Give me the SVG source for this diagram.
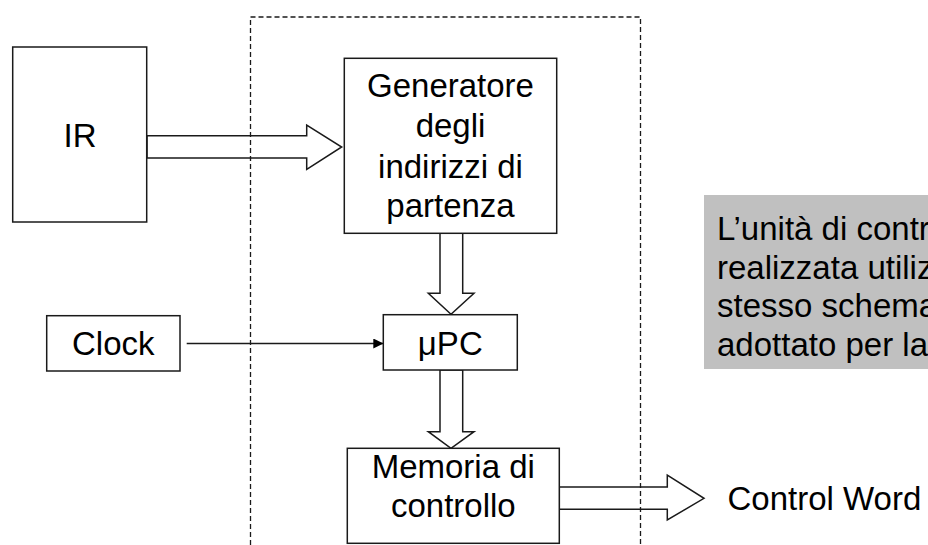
<svg xmlns="http://www.w3.org/2000/svg" width="928" height="545" viewBox="0 0 928 545">
<style>
.box{fill:#fff;stroke:#1a1a1a;stroke-width:1.5}
.blk{fill:#fff;stroke:#1a1a1a;stroke-width:1.5;stroke-linejoin:miter}
.t{font-family:"Liberation Sans",Arial,sans-serif;font-size:33px;fill:#000}
.c{text-anchor:middle}
.frame{fill:none;stroke:#1a1a1a;stroke-width:1.3;stroke-dasharray:5 3}
</style>
<defs>
<marker id="ah" markerWidth="10" markerHeight="10" refX="10" refY="5" orient="auto" markerUnits="userSpaceOnUse">
<path d="M0,0 L10,5 L0,10 Z" fill="#000"/>
</marker>
</defs>
<rect width="928" height="545" fill="#fff"/>
<g id="note">
<rect x="704" y="195" width="224" height="174" fill="#c0c0c0"/>
<text class="t" x="717" y="240">L’unità di contr</text>
<text class="t" x="717" y="278.5">realizzata utiliz</text>
<text class="t" x="717" y="317">stesso schema</text>
<text class="t" x="717" y="355.5">adottato per la</text>
</g>
<g id="connectors">
<polygon class="blk" points="147,135.7 306.7,135.7 306.7,125 341.7,147 306.7,169.3 306.7,158 147,158"/>
<polygon class="blk" points="440,233 440,293.3 428.3,293.3 451,314.3 474,293.3 462.7,293.3 462.7,233"/>
<polygon class="blk" points="440,370 440,431.7 428.3,431.7 451,448.3 474,431.7 462.7,431.7 462.7,370"/>
<polygon class="blk" points="559.3,487 667.3,487 667.3,475 704,498.3 667.3,520 667.3,509.3 559.3,509.3"/>
<line x1="186.7" y1="343.5" x2="383.3" y2="343.5" stroke="#1a1a1a" stroke-width="1.5" marker-end="url(#ah)"/>
</g>
<g id="ir">
<rect class="box" x="12.7" y="47" width="134" height="175"/>
<text class="t c" x="80" y="147">IR</text>
</g>
<g id="generatore">
<rect class="box" x="344.3" y="58.3" width="212.4" height="175"/>
<text class="t c" x="450.5" y="96.7">Generatore</text>
<text class="t c" x="450.5" y="136.7">degli</text>
<text class="t c" x="450.5" y="177.5">indirizzi di</text>
<text class="t c" x="450.5" y="216.7">partenza</text>
</g>
<g id="clock">
<rect class="box" x="46.7" y="315.7" width="133.3" height="55.3"/>
<text class="t c" x="113.3" y="355">Clock</text>
</g>
<g id="upc">
<rect class="box" x="383.3" y="314.7" width="134" height="55.3"/>
<text class="t c" x="450.3" y="355">μPC</text>
</g>
<g id="memoria">
<rect class="box" x="347.3" y="448.3" width="212" height="95"/>
<text class="t c" x="453.3" y="478.3">Memoria di</text>
<text class="t c" x="453.3" y="516.7">controllo</text>
</g>
<g id="controlword">
<text class="t" x="727.5" y="510">Control Word</text>
</g>
<g id="frame">
<path class="frame" d="M250.5,545 V17 H640.5 V545"/>
</g>
</svg>
